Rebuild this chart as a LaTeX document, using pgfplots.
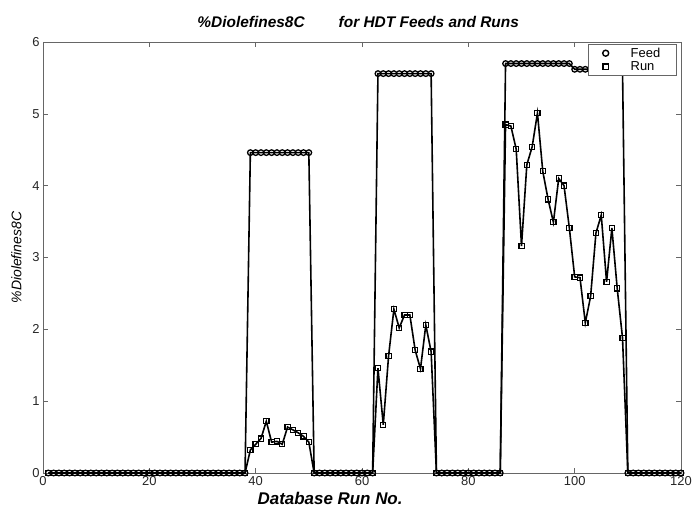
\documentclass[border=0pt]{standalone}
\usepackage{fontspec}
\setmainfont{Liberation Sans}
\usepackage{pgfplots}
\pgfplotsset{compat=1.18}
\usepackage{pgfplotstable}

\pgfplotstableread{
x y
1 0
2 0
3 0
4 0
5 0
6 0
7 0
8 0
9 0
10 0
11 0
12 0
13 0
14 0
15 0
16 0
17 0
18 0
19 0
20 0
21 0
22 0
23 0
24 0
25 0
26 0
27 0
28 0
29 0
30 0
31 0
32 0
33 0
34 0
35 0
36 0
37 0
38 0
39 4.46
40 4.46
41 4.46
42 4.46
43 4.46
44 4.46
45 4.46
46 4.46
47 4.46
48 4.46
49 4.46
50 4.46
51 0
52 0
53 0
54 0
55 0
56 0
57 0
58 0
59 0
60 0
61 0
62 0
63 5.56
64 5.56
65 5.56
66 5.56
67 5.56
68 5.56
69 5.56
70 5.56
71 5.56
72 5.56
73 5.56
74 0
75 0
76 0
77 0
78 0
79 0
80 0
81 0
82 0
83 0
84 0
85 0
86 0
87 5.70
88 5.70
89 5.70
90 5.70
91 5.70
92 5.70
93 5.70
94 5.70
95 5.70
96 5.70
97 5.70
98 5.70
99 5.70
100 5.62
101 5.62
102 5.62
103 5.62
104 5.62
105 5.62
106 5.62
107 5.62
108 5.62
109 5.62
110 0
111 0
112 0
113 0
114 0
115 0
116 0
117 0
118 0
119 0
120 0
}\feed

\pgfplotstableread{
x y
1 0
2 0
3 0
4 0
5 0
6 0
7 0
8 0
9 0
10 0
11 0
12 0
13 0
14 0
15 0
16 0
17 0
18 0
19 0
20 0
21 0
22 0
23 0
24 0
25 0
26 0
27 0
28 0
29 0
30 0
31 0
32 0
33 0
34 0
35 0
36 0
37 0
38 0
39 0.32
40 0.40
41 0.48
42 0.72
43 0.43
44 0.44
45 0.40
46 0.64
47 0.60
48 0.56
49 0.51
50 0.43
51 0
52 0
53 0
54 0
55 0
56 0
57 0
58 0
59 0
60 0
61 0
62 0
63 1.46
64 0.67
65 1.63
66 2.28
67 2.02
68 2.20
69 2.20
70 1.71
71 1.45
72 2.06
73 1.69
74 0
75 0
76 0
77 0
78 0
79 0
80 0
81 0
82 0
83 0
84 0
85 0
86 0
87 4.85
88 4.83
89 4.51
90 3.16
91 4.29
92 4.54
93 5.01
94 4.20
95 3.81
96 3.49
97 4.10
98 4.00
99 3.41
100 2.73
101 2.72
102 2.09
103 2.46
104 3.34
105 3.59
106 2.66
107 3.41
108 2.57
109 1.88
110 0
111 0
112 0
113 0
114 0
115 0
116 0
117 0
118 0
119 0
120 0
}\run

\begin{document}
\begin{tikzpicture}
\path[use as bounding box] (-43bp,-40bp) rectangle (653bp,473bp);
\begin{axis}[
  at={(0,0)}, anchor=south west,
  scale only axis,
  width=638bp, height=431bp,
  xmin=0, xmax=120, ymin=0, ymax=6,
  xtick={0,20,...,120}, ytick={0,1,...,6},
  tick align=inside,
  major tick length=5bp,
  axis line style={gray!80!black, line width=0.8bp},
  tick style={gray!80!black, line width=0.6bp},
  /pgf/number format/assume math mode=true,
  ticklabel style={font=\fontsize{13}{15}\selectfont, text=black!85},
  xticklabel style={yshift=0bp},
  title={\textbf{\textit{\%Diolefines8C\hspace{2.2em}for HDT Feeds and Runs}}},
  title style={font=\fontsize{15.5}{18}\selectfont, at={(axis description cs:0.494,1)}, anchor=south, yshift=5bp},
  xlabel={\textbf{\textit{Database Run No.}}},
  xlabel style={font=\fontsize{17}{19}\selectfont, at={(axis description cs:0.45,0)}, anchor=north, yshift=-16bp},
  ylabel={\textit{\%Diolefines8C}},
  ylabel style={font=\fontsize{14}{16}\selectfont, at={(axis description cs:-0.028,0.5)}, anchor=south},
  legend style={at={(axis description cs:0.9937,0.9954)}, anchor=north east,
    font=\fontsize{13}{15}\selectfont, draw=gray!80!black, line width=0.6bp, fill=white,
    inner xsep=14bp, inner ysep=1.5bp, row sep=-1bp,
    /tikz/every odd column/.append style={column sep=20bp},
    /tikz/every even column/.append style={text width=30bp}},
  legend cell align=left,
  clip=false,
]
\addplot[black, line width=1.6bp, mark=o, mark size=2.8bp, mark options={line width=1.3bp, fill=white, solid}, forget plot] table[x=x,y=y] {\feed};
\addplot[black, line width=1.6bp, mark=square, mark size=2.6bp, mark options={line width=1.2bp, fill=white, solid}, forget plot] table[x=x,y=y] {\run};
\addlegendimage{only marks, black, mark=o, mark size=3bp, mark options={line width=1.4bp}}
\addlegendentry{Feed}
\addlegendimage{only marks, black, mark=square, mark size=2.8bp, mark options={line width=1.4bp}}
\addlegendentry{Run}
\end{axis}
\end{tikzpicture}
\end{document}
